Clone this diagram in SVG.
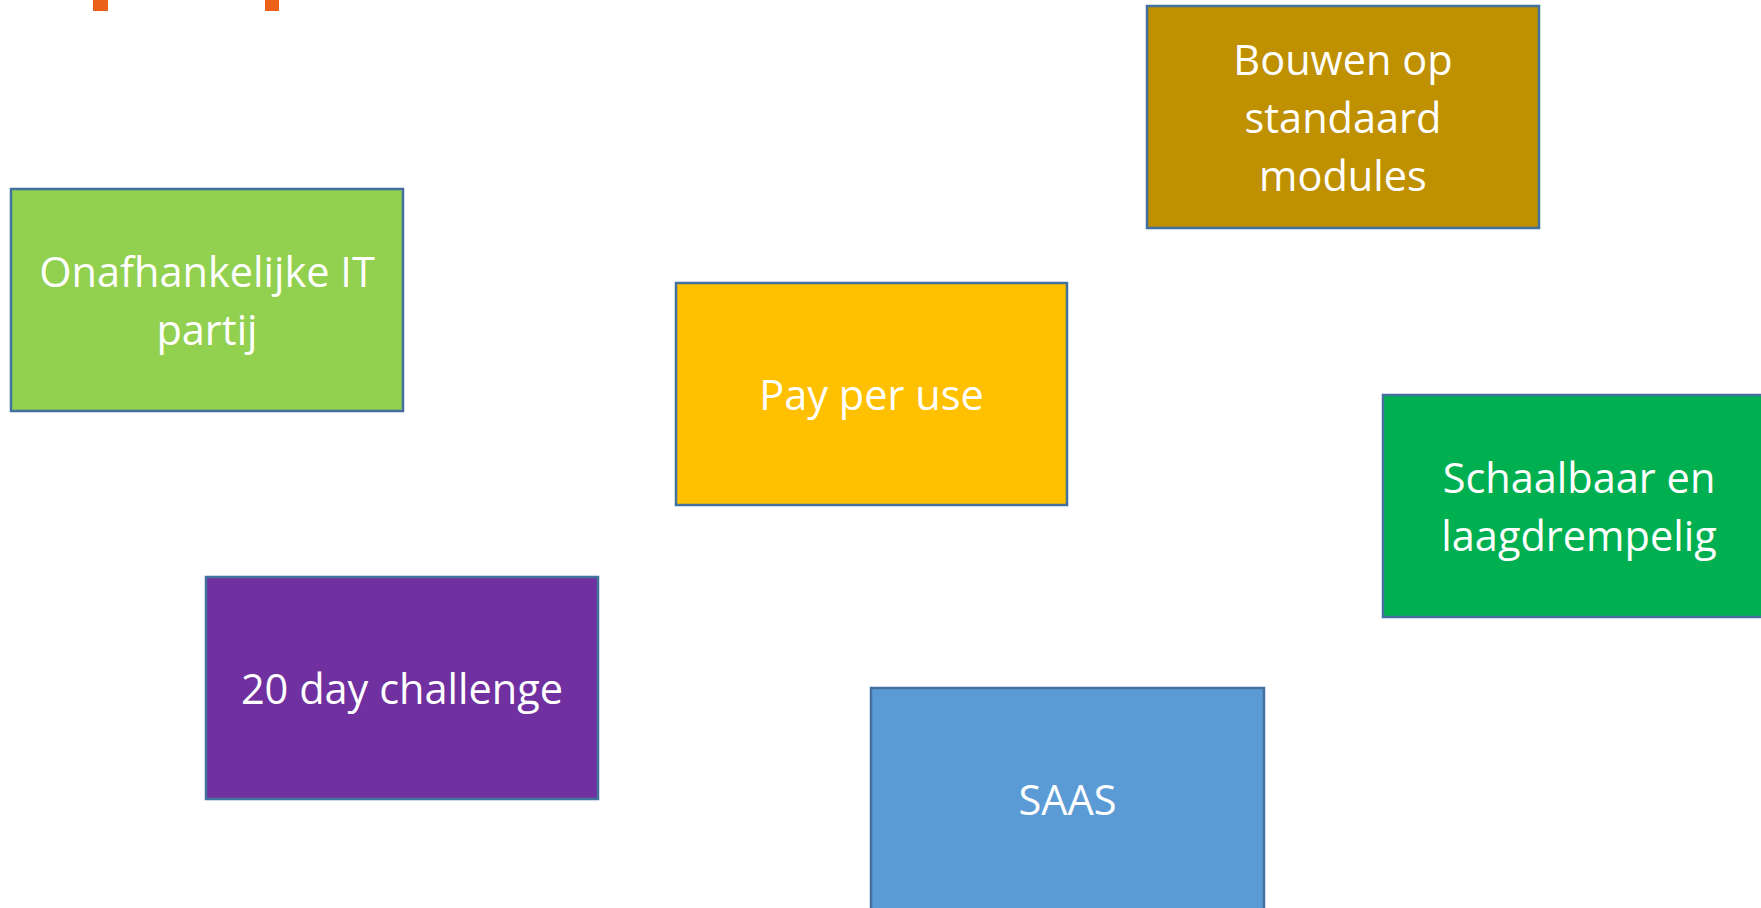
<svg xmlns="http://www.w3.org/2000/svg" width="1761" height="908" viewBox="0 0 1761 908">
<style>
.box{stroke:#41719C;stroke-width:2.5}
.t{font-family:"Open Sans","Liberation Sans",sans-serif;font-size:41.5px;fill:#FFFFFF;text-anchor:middle}
</style>
<rect width="1761" height="908" fill="#FFFFFF"/>
<g id="decor">
<rect x="93" y="0" width="15" height="11" fill="#EB6119"/>
<rect x="265" y="0" width="14" height="11" fill="#EB6119"/>
</g>
<g id="connectors"></g>
<g id="node-onafhankelijk">
<rect class="box" x="11" y="189" width="392" height="222" fill="#92D050"/>
<text class="t" x="207" y="287">Onafhankelijke IT</text>
<text class="t" x="207" y="345">partij</text>
</g>
<g id="node-pay">
<rect class="box" x="676" y="283" width="391" height="222" fill="#FFC000"/>
<text class="t" x="871.5" y="410">Pay per use</text>
</g>
<g id="node-bouwen">
<rect class="box" x="1147" y="6" width="392" height="222" fill="#BF9000"/>
<text class="t" x="1343" y="75">Bouwen op</text>
<text class="t" x="1343" y="133">standaard</text>
<text class="t" x="1343" y="191">modules</text>
</g>
<g id="node-schaalbaar">
<rect class="box" x="1383" y="395" width="392" height="222" fill="#00B050"/>
<text class="t" x="1579" y="493">Schaalbaar en</text>
<text class="t" x="1579" y="551">laagdrempelig</text>
</g>
<g id="node-challenge">
<rect class="box" x="206" y="577" width="392" height="222" fill="#7030A0"/>
<text class="t" x="402" y="704">20 day challenge</text>
</g>
<g id="node-saas">
<rect class="box" x="871" y="688" width="393" height="222" fill="#5B9BD5"/>
<text class="t" x="1067.5" y="815">SAAS</text>
</g>
</svg>
